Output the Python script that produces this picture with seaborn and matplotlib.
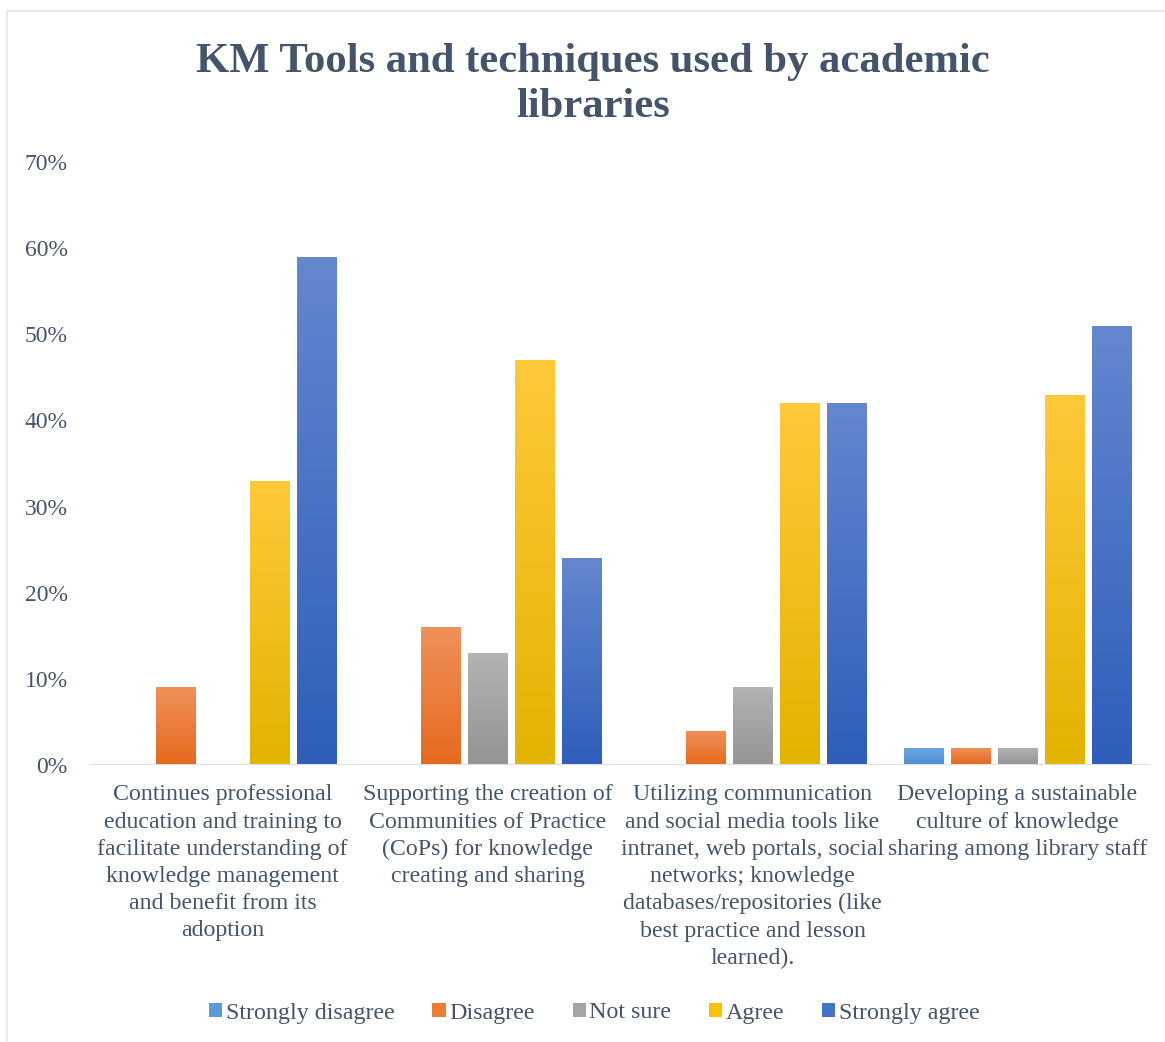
import numpy as np
import pandas as pd
import matplotlib
matplotlib.use("Agg")
import matplotlib.pyplot as plt
import matplotlib.colors as mcolors
from matplotlib.patches import Patch
from matplotlib.lines import Line2D
import seaborn as sns

# ---------------- data ----------------
categories = [
    "Continues professional\neducation and training to\nfacilitate understanding of\nknowledge management\nand benefit from its\nadoption",
    "Supporting the creation of\nCommunities of Practice\n(CoPs) for knowledge\ncreating and sharing",
    "Utilizing communication\nand social media tools like\nintranet, web portals, social\nnetworks; knowledge\ndatabases/repositories (like\nbest practice and lesson\nlearned).",
    "Developing a sustainable\nculture of knowledge\nsharing among library staff",
]
responses = ["Strongly disagree", "Disagree", "Not sure", "Agree", "Strongly agree"]
strongly_disagree = [0.00, 0.00, 0.00, 0.02]
disagree = [0.09, 0.16, 0.04, 0.02]
not_sure = [0.00, 0.13, 0.09, 0.02]
agree = [0.33, 0.47, 0.42, 0.43]
strongly_agree = [0.59, 0.24, 0.42, 0.51]
y_ticks = [0.0, 0.1, 0.2, 0.3, 0.4, 0.5, 0.6, 0.7]
y_tick_labels = ["0%", "10%", "20%", "30%", "40%", "50%", "60%", "70%"]
title = "KM Tools and techniques used by academic\nlibraries"

series = [strongly_disagree, disagree, not_sure, agree, strongly_agree]
rows = []
for resp, vals in zip(responses, series):
    for cat, v in zip(categories, vals):
        rows.append({"category": cat, "response": resp, "value": v})
df = pd.DataFrame(rows)

# ---------------- style ----------------
base_colors = ["#5B9BD5", "#ED7D31", "#A5A5A5", "#FFC000", "#4472C4"]
grad_top = ["#6EA6DE", "#F0915C", "#B3B3B3", "#FFC93A", "#6487CF"]
grad_bot = ["#4A8FD6", "#E5691C", "#949494", "#E3B300", "#2E5EBA"]
text_color = "#44546A"

sns.set_theme(style="white")
plt.rcParams["font.family"] = ["Liberation Serif", "DejaVu Serif"]

fig = plt.figure(figsize=(11.65, 10.42), dpi=100)
ax = fig.add_axes([90 / 1165, 1 - 765 / 1042, 1060 / 1165, (765 - 162) / 1042])

sns.barplot(data=df, x="category", y="value", hue="response", hue_order=responses,
            order=categories, palette=base_colors, width=0.887, gap=0.17,
            legend=False, ax=ax, saturation=1, errorbar=None)

ax.set_ylim(0, 0.70)
ax.set_xlim(-0.5, 3.5)
ax.set_yticks(y_ticks)
ax.set_yticklabels(y_tick_labels, fontsize=17, color=text_color)
ax.tick_params(axis="y", length=0, pad=16)
ax.tick_params(axis="x", length=0, pad=14)
ax.set_xticklabels(categories, fontsize=17.2, color=text_color, linespacing=1.385)
ax.set_xlabel("")
ax.set_ylabel("")
for s in ax.spines.values():
    s.set_visible(False)
ax.grid(False)
ax.axhline(0, color="#DDE1E8", lw=2.2, zorder=5)

# gradient fill for bars
grad = np.linspace(0, 1, 256).reshape(-1, 1)
n_cat = len(categories)
for i, patch in enumerate(ax.patches):
    h = patch.get_height()
    if h <= 0:
        patch.set_visible(False)
        continue
    r = i // n_cat
    cmap = mcolors.LinearSegmentedColormap.from_list("g", [grad_bot[r], grad_top[r]])
    x0 = patch.get_x()
    w = patch.get_width()
    im = ax.imshow(grad, extent=[x0, x0 + w, 0, h], origin="lower", aspect="auto",
                   cmap=cmap, zorder=patch.get_zorder(), interpolation="bilinear")
    im.set_clip_path(patch)
    patch.set_facecolor("none")
    patch.set_edgecolor("none")
ax.set_xlim(-0.5, 3.5)
ax.set_ylim(0, 0.70)

# legend
handles = [Patch(facecolor=c, edgecolor="none") for c in base_colors]
fig.legend(handles, responses, loc="center", bbox_to_anchor=(594.5 / 1165, 1 - 1013 / 1042),
           ncol=5, frameon=False, fontsize=17.3, handlelength=0.55, handleheight=0.55,
           handletextpad=0.15, columnspacing=1.57, labelcolor=text_color)

# title
fig.text(593 / 1165, 1 - 84.5 / 1042, title, ha="center", va="center", fontsize=30.7,
         fontweight="bold", color=text_color, linespacing=1.24)

# chart frame lines
fig.add_artist(Line2D([7 / 1165, 7 / 1165], [0, 1 - 11 / 1042], color="#E3E6EA", lw=1.2,
                      transform=fig.transFigure))
fig.add_artist(Line2D([7 / 1165, 1], [1 - 11 / 1042, 1 - 11 / 1042], color="#E3E6EA", lw=1.2,
                      transform=fig.transFigure))

fig.savefig("out.png", dpi=100, facecolor="white")
